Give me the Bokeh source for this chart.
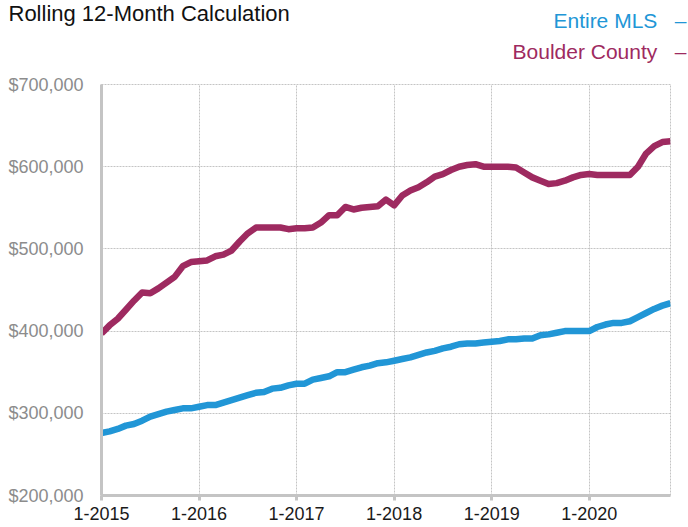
from bokeh.plotting import figure
from bokeh.models import Label, FixedTicker, Range1d, ColumnDataSource
from bokeh.embed import file_html
from bokeh.resources import INLINE

# ---- data (monthly, Jan 2015 .. Nov 2020), rolling 12-month median price ----
month_index = list(range(71))
entire_mls = [276, 278, 281, 285, 287, 291, 296, 299, 302, 304, 306, 306,
              308, 310, 310, 313, 316, 319, 322, 325, 326, 330, 331, 334,
              336, 336, 341, 343, 345, 350, 350, 353, 356, 358, 361, 362,
              364, 366, 368, 371, 374, 376, 379, 381, 384, 385, 385, 386,
              387, 388, 390, 390, 391, 391, 395, 396, 398, 400, 400, 400,
              400, 405, 408, 410, 410, 412, 417, 422, 427, 431, 434]
boulder_county = [397, 407, 415, 426, 437, 447, 446, 452, 459, 466, 479, 484,
                  485, 486, 491, 493, 498, 509, 519, 526, 526, 526, 526, 524,
                  525, 525, 526, 532, 541, 541, 551, 548, 550, 551, 552, 560,
                  553, 565, 571, 575, 581, 588, 591, 596, 600, 602, 603, 600,
                  600, 600, 600, 599, 593, 587, 583, 579, 580, 583, 587, 590,
                  591, 590, 590, 590, 590, 590, 600, 616, 625, 630, 631]
year_ticks = [0, 12, 24, 36, 48, 60]
year_labels = ["1-2015", "1-2016", "1-2017", "1-2018", "1-2019", "1-2020"]
y_ticks = [200000, 300000, 400000, 500000, 600000, 700000]
y_labels = ["$200,000", "$300,000", "$400,000", "$500,000", "$600,000", "$700,000"]
series_names = ["Entire MLS", "Boulder County"]
title_text = "Rolling 12-Month Calculation"

BLUE = "#2196d6"
MAROON = "#9e2a60"
GRID = "#c4c4c4"
FONT = "Liberation Sans"

W, H = 688, 527
p = figure(width=W, height=H, output_backend="svg", toolbar_location=None,
           x_range=Range1d(0, 70), y_range=Range1d(200000, 700000),
           min_border_left=101, min_border_right=18, min_border_top=84,
           min_border_bottom=32)
p.background_fill_color = "white"
p.border_fill_color = "white"
p.outline_line_color = GRID
p.outline_line_dash = "2 1"
p.outline_line_width = 1

src = ColumnDataSource(dict(
    x=month_index,
    mls=[v * 1000 for v in entire_mls],
    boulder=[v * 1000 for v in boulder_county],
))
p.line("x", "mls", source=src, line_color=BLUE, line_width=6.5, line_join="round")
p.line("x", "boulder", source=src, line_color=MAROON, line_width=6.5, line_join="round")

# grids
for g in (p.xgrid, p.ygrid):
    g.grid_line_color = GRID
    g.grid_line_dash = "2 1"
    g.grid_line_width = 1
p.xgrid.ticker = FixedTicker(ticks=year_ticks)
p.ygrid.ticker = FixedTicker(ticks=y_ticks)

# x axis
xa = p.xaxis[0]
xa.ticker = FixedTicker(ticks=year_ticks)
xa.major_label_overrides = {t: l for t, l in zip(year_ticks, year_labels)}
xa.axis_line_color = GRID
xa.axis_line_width = 3
xa.major_tick_line_color = GRID
xa.major_tick_line_width = 3
xa.major_tick_out = 5
xa.major_tick_in = 0
xa.minor_tick_line_color = None
xa.major_label_standoff = 6
xa.major_label_text_font = FONT
xa.major_label_text_font_size = "18px"
xa.major_label_text_color = "#1a1a1a"

# y axis
ya = p.yaxis[0]
ya.ticker = FixedTicker(ticks=y_ticks)
ya.major_label_overrides = {t: l for t, l in zip(y_ticks, y_labels)}
ya.axis_line_color = GRID
ya.axis_line_width = 3
ya.major_tick_line_color = None
ya.major_tick_out = 0
ya.major_tick_in = 0
ya.minor_tick_line_color = None
ya.major_label_standoff = 18
ya.major_label_text_font = FONT
ya.major_label_text_font_size = "18px"
ya.major_label_text_color = "#8c8c8c"

# legend entries (text + dash on the right) and title, placed in the top panel
DASH = "\u00a0\u00a0\u00a0\u2013"
p.add_layout(Label(x=585, y=33.5, x_units="screen", y_units="screen",
                   text=series_names[1] + DASH, text_font=FONT, text_font_size="21px",
                   text_color=MAROON, text_baseline="alphabetic", text_align="right"),
             "above")
p.add_layout(Label(x=585, y=41, x_units="screen", y_units="screen",
                   text=series_names[0] + DASH, text_font=FONT, text_font_size="21px",
                   text_color=BLUE, text_baseline="alphabetic", text_align="right"),
             "above")
p.add_layout(Label(x=-93, y=25, x_units="screen", y_units="screen",
                   text=title_text, text_font=FONT, text_font_size="22px",
                   text_color="#111111", text_baseline="alphabetic", text_align="left"),
             "above")

open("out.html", "w").write(file_html(p, INLINE))
